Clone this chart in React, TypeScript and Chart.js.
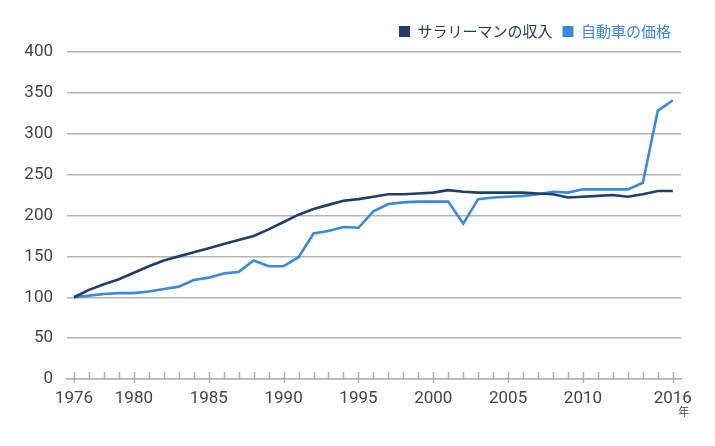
import React, { useEffect, useRef } from "react";
import { Chart, registerables } from "chart.js";

Chart.register(...registerables);

const years: number[] = [
  1976, 1977, 1978, 1979, 1980, 1981, 1982, 1983, 1984, 1985,
  1986, 1987, 1988, 1989, 1990, 1991, 1992, 1993, 1994, 1995,
  1996, 1997, 1998, 1999, 2000, 2001, 2002, 2003, 2004, 2005,
  2006, 2007, 2008, 2009, 2010, 2011, 2012, 2013, 2014, 2015, 2016,
];

const salaryIncome: number[] = [
  100, 109, 116, 122, 130, 138, 145, 150, 155, 160,
  165, 170, 175, 183, 192, 201, 208, 213, 218, 220,
  223, 226, 226, 227, 228, 231, 229, 228, 228, 228,
  228, 227, 226, 222, 223, 224, 225, 223, 226, 230, 230,
];

const carPrice: number[] = [
  100, 102, 104, 105, 105, 107, 110, 113, 121, 124,
  129, 131, 145, 138, 138, 149, 178, 181, 186, 185,
  205, 214, 216, 217, 217, 217, 190, 220, 222, 223,
  224, 226, 229, 228, 232, 232, 232, 232, 240, 328, 341,
];

const seriesNames: string[] = ["サラリーマンの収入", "自動車の価格"];
const seriesColors: string[] = ["#1f3e6c", "#3b89dc"];
const legendTextColors: string[] = ["#2a3b58", "#3b89dc"];

const xTickYears: number[] = [1976, 1980, 1985, 1990, 1995, 2000, 2005, 2010, 2016];
const yTicks: number[] = [0, 50, 100, 150, 200, 250, 300, 350, 400];
const yearUnit = "年";

const FONT = "Roboto, 'Liberation Sans', Arial, sans-serif";

const legendSpacingPlugin = {
  id: "legendSpacing",
  afterInit(chart: any) {
    const lg = chart.legend;
    if (!lg) return;
    const orig = lg.fit;
    lg.fit = function (this: any) {
      orig.call(this);
      this.height += 3;
    };
  },
};

const yearTicksPlugin = {
  id: "yearTicks",
  beforeDatasetsDraw(chart: any) {
    const xs = chart.scales.x;
    const bottom = chart.chartArea.bottom;
    const ctx = chart.ctx;
    ctx.save();
    ctx.strokeStyle = "#b0b0b0";
    ctx.lineWidth = 1.5;
    for (const yr of years) {
      const px = Math.round(xs.getPixelForValue(yr)) + 0.5;
      const major = xTickYears.includes(yr);
      ctx.beginPath();
      ctx.moveTo(px, bottom - 7);
      ctx.lineTo(px, bottom + (major ? 4 : 1));
      ctx.stroke();
    }
    ctx.restore();
  },
  afterDraw(chart: any) {
    const xs = chart.scales.x;
    const ctx = chart.ctx;
    ctx.save();
    ctx.fillStyle = "#444444";
    ctx.font = "11px 'Noto Sans CJK JP', sans-serif";
    ctx.textAlign = "center";
    ctx.textBaseline = "middle";
    const last = years[years.length - 1];
    ctx.fillText(yearUnit, xs.getPixelForValue(last) + 11, 412);
    ctx.restore();
  },
};

export default function App() {
  const canvasRef = useRef<HTMLCanvasElement | null>(null);

  useEffect(() => {
    if (!canvasRef.current) return;
    const chart = new Chart(canvasRef.current, {
      type: "line",
      data: {
        datasets: [
          {
            label: seriesNames[0],
            data: years.map((y, i) => ({ x: y, y: salaryIncome[i] })),
            borderColor: seriesColors[0],
            backgroundColor: seriesColors[0],
            borderWidth: 2.6,
            pointRadius: 0,
            tension: 0,
          },
          {
            label: seriesNames[1],
            data: years.map((y, i) => ({ x: y, y: carPrice[i] })),
            borderColor: seriesColors[1],
            backgroundColor: seriesColors[1],
            borderWidth: 2.6,
            pointRadius: 0,
            tension: 0,
          },
        ],
      },
      options: {
        animation: false,
        responsive: false,
        maintainAspectRatio: false,
        layout: { padding: { top: 14, right: 34, left: 0, bottom: 0 } },
        plugins: {
          tooltip: { enabled: false },
          legend: {
            position: "top",
            align: "end",
            labels: {
              boxWidth: 11,
              boxHeight: 11,
              padding: 10,
              font: { family: "'Noto Sans CJK JP', sans-serif", size: 15 },
              generateLabels(chart: any) {
                const items = Chart.defaults.plugins.legend.labels.generateLabels(chart);
                items.forEach((it: any, i: number) => {
                  it.fontColor = legendTextColors[i];
                  it.fillStyle = seriesColors[i];
                  it.strokeStyle = seriesColors[i];
                  it.lineWidth = 0;
                });
                return items;
              },
            },
          },
        },
        scales: {
          x: {
            type: "linear",
            min: 1975.53,
            max: 2016.55,
            grid: { display: false, drawTicks: false },
            border: { display: true, color: "#b3b3b3", width: 1.5 },
            afterBuildTicks(scale: any) {
              scale.ticks = xTickYears.map((v) => ({ value: v }));
            },
            afterFit(scale: any) {
              scale.height = 67;
            },
            ticks: {
              autoSkip: false,
              maxRotation: 0,
              padding: 10,
              color: "#444444",
              font: { family: FONT, size: 17 },
              callback: (v: any) => String(v),
            },
          },
          y: {
            min: 0,
            max: 400,
            afterBuildTicks(scale: any) {
              scale.ticks = yTicks.map((v) => ({ value: v }));
            },
            afterFit(scale: any) {
              scale.width = 67;
            },
            grid: { color: "#b3b3b3", lineWidth: 1.5, drawTicks: false },
            border: { display: false },
            ticks: {
              padding: 14,
              color: "#444444",
              font: { family: FONT, size: 17 },
            },
          },
        },
      },
      plugins: [legendSpacingPlugin, yearTicksPlugin],
    });
    return () => chart.destroy();
  }, []);

  return (
    <div style={{ position: "fixed", left: 0, top: 0, width: 715, height: 446, background: "#ffffff" }}>
      <canvas ref={canvasRef} width={715} height={446} style={{ width: 715, height: 446, display: "block" }} />
    </div>
  );
}
